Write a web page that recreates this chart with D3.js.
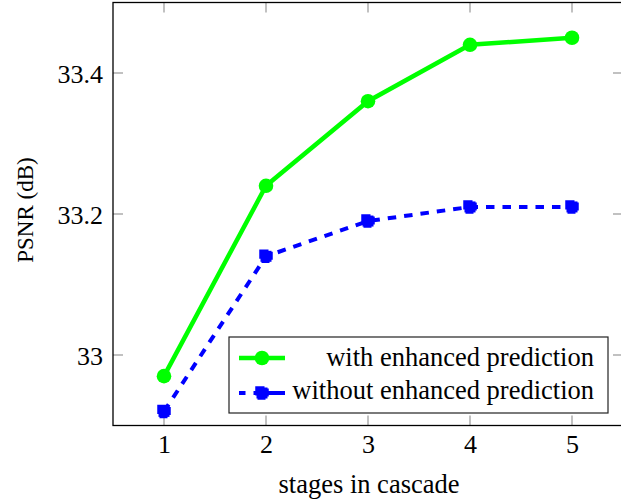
<!DOCTYPE html>
<html><head><meta charset="utf-8">
<script src="https://cdn.jsdelivr.net/npm/d3@7"></script>
<style>body{margin:0;background:#fff}svg{display:block}</style>
</head><body><svg id="c" width="621" height="500"></svg>
<script>
const stages = [1, 2, 3, 4, 5];
const withEnhanced = [32.97, 33.24, 33.36, 33.44, 33.45];
const withoutEnhanced = [32.92, 33.14, 33.19, 33.21, 33.21];
const xTicks = [1, 2, 3, 4, 5];
const yTicks = [33, 33.2, 33.4];
const yTickLabels = ["33", "33.2", "33.4"];
const seriesNames = ["with enhanced prediction", "without enhanced prediction"];

const FONT = "'Liberation Serif'";
const svg = d3.select("#c");
const L = 113, R = 623, T = 2.5, B = 425.5;
const x = d3.scaleLinear().domain([0.5, 5.5]).range([L, R]);
const y = d3.scaleLinear().domain([32.9, 33.5]).range([B, T]);

// inner ticks (gray)
const tickG = svg.append("g").attr("stroke", "#a0a0a0").attr("stroke-width", 1.3);
xTicks.forEach(v => {
  tickG.append("line").attr("x1", x(v)).attr("x2", x(v)).attr("y1", B).attr("y2", B - 10);
  tickG.append("line").attr("x1", x(v)).attr("x2", x(v)).attr("y1", T).attr("y2", T + 10);
});
yTicks.forEach(v => {
  tickG.append("line").attr("x1", L).attr("x2", L + 10).attr("y1", y(v)).attr("y2", y(v));
  tickG.append("line").attr("x1", R).attr("x2", R - 10).attr("y1", y(v)).attr("y2", y(v));
});

// axes labels via d3 axis
const xAxis = d3.axisBottom(x).tickValues(xTicks).tickSize(0).tickPadding(9).tickFormat(d3.format("d"));
const gx = svg.append("g").attr("transform", `translate(0,${B})`).call(xAxis)
  .attr("font-family", null).attr("font-size", null);
gx.select(".domain").remove();
gx.selectAll("text").style("font-size", "26px").style("font-family", FONT).attr("fill", "#000");

const yAxis = d3.axisLeft(y).tickValues(yTicks).tickSize(0).tickPadding(10).tickFormat((d, i) => yTickLabels[i]);
const gy = svg.append("g").attr("transform", `translate(${L},0)`).call(yAxis)
  .attr("font-family", null).attr("font-size", null);
gy.select(".domain").remove();
gy.selectAll("text").style("font-size", "26px").style("font-family", FONT).attr("fill", "#000").attr("dy", "0.38em");

// frame
svg.append("rect").attr("x", L).attr("y", T).attr("width", R - L).attr("height", B - T)
  .attr("fill", "none").attr("stroke", "#000").attr("stroke-width", 1.3);

// axis titles
svg.append("text").attr("x", 369).attr("y", 493).attr("text-anchor", "middle")
  .style("font-family", FONT).style("font-size", "26.5px").text("stages in cascade");
svg.append("text").attr("transform", `translate(33,210) rotate(-90)`).attr("text-anchor", "middle")
  .style("font-family", FONT).style("font-size", "23px").text("PSNR (dB)");

const line = d3.line().x((d, i) => x(stages[i])).y(d => y(d));

// blue dashed series
svg.append("path").datum(withoutEnhanced).attr("d", line).attr("fill", "none")
  .attr("stroke", "#0000ff").attr("stroke-width", 4).attr("stroke-dasharray", "8.5,8");
function blueMarker(g, cx, cy) {
  g.append("rect").attr("x", cx - 5.5).attr("y", cy - 5.5).attr("width", 11).attr("height", 11)
    .attr("fill", "#0000ff").attr("stroke", "#0000ff").attr("stroke-width", 2.5).attr("stroke-dasharray", "8,4");
}
withoutEnhanced.forEach((v, i) => blueMarker(svg, x(stages[i]), y(v)));

// green series
svg.append("path").datum(withEnhanced).attr("d", line).attr("fill", "none")
  .attr("stroke", "#00ff00").attr("stroke-width", 4.5);
svg.selectAll("circle.g").data(withEnhanced).enter().append("circle")
  .attr("cx", (d, i) => x(stages[i])).attr("cy", d => y(d)).attr("r", 7.3).attr("fill", "#00ff00");

// legend
const lg = svg.append("g");
lg.append("rect").attr("x", 229).attr("y", 337).attr("width", 379).attr("height", 76)
  .attr("fill", "#fff").attr("stroke", "#222").attr("stroke-width", 1.2);
const rows = [358, 393];
const baselines = [366, 399];
lg.append("line").attr("x1", 239).attr("x2", 285).attr("y1", rows[0]).attr("y2", rows[0])
  .attr("stroke", "#00ff00").attr("stroke-width", 4.5);
lg.append("circle").attr("cx", 262).attr("cy", rows[0]).attr("r", 7.3).attr("fill", "#00ff00");
lg.append("line").attr("x1", 239).attr("x2", 285).attr("y1", rows[1]).attr("y2", rows[1])
  .attr("stroke", "#0000ff").attr("stroke-width", 4).attr("stroke-dasharray", "6.5,8,50");
blueMarker(lg, 262, rows[1]);
seriesNames.forEach((n, i) => {
  lg.append("text").attr("x", 594).attr("y", baselines[i]).attr("text-anchor", "end")
    .style("font-family", FONT).style("font-size", "26.5px").text(n);
});
</script></body></html>
